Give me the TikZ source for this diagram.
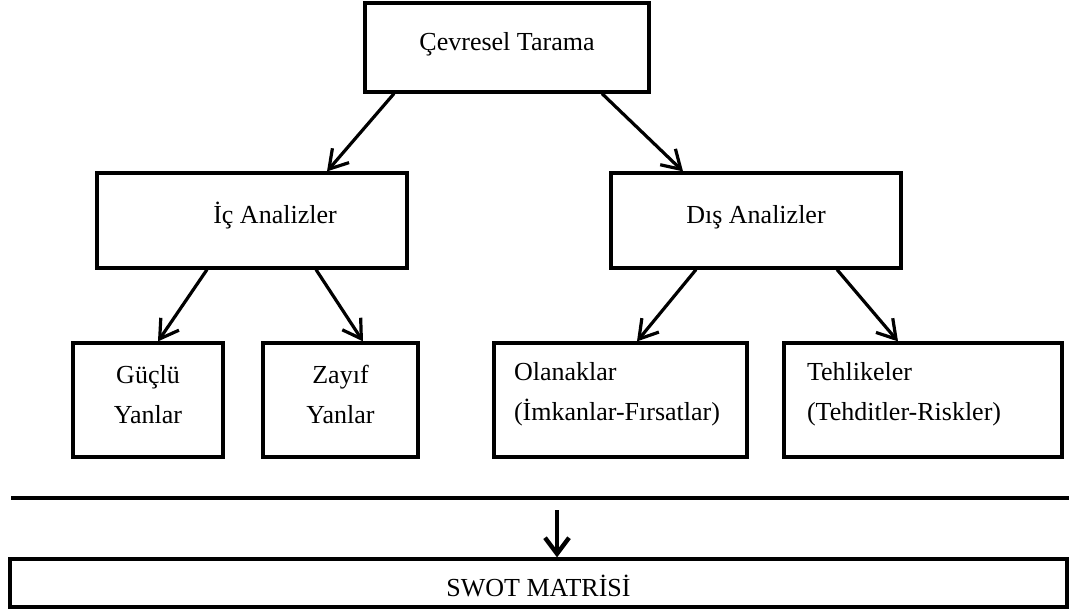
\documentclass[tikz,border=0pt]{standalone}
\usepackage{fontspec}
\setmainfont{Liberation Serif}
\usetikzlibrary{arrows.meta,positioning}

\tikzset{
  kutu/.style={draw, line width=1.6pt, inner sep=0pt, font=\fontsize{13}{20}\selectfont},
  tek/.style={kutu, align=center, text height=9pt, text depth=6pt},
  iki/.style={kutu, align=center, text height=29pt, text depth=6pt},
  sol/.style={kutu, align=left, text height=9pt, text depth=29pt},
  ok/.style={-{Straight Barb[length=9pt,width=11pt]}, line width=1.6pt},
  kalinok/.style={-{Straight Barb[length=8pt,width=12pt]}, line width=2.2pt},
}

\begin{document}
\begin{tikzpicture}[x=0.5pt,y=-0.5pt]
\useasboundingbox (0,0) rectangle (1069,609);

\node[tek, minimum width=142pt, minimum height=44.5pt] at (507,47.5) (cevre) {Çevresel Tarama};

\node[tek, minimum width=155pt, minimum height=47.5pt] at (252,220.5) (ic) {\hspace*{23pt}İç Analizler};
\node[tek, minimum width=145pt, minimum height=47.5pt] at (756,220.5) (dis) {Dış Analizler};

\node[iki, minimum width=75pt, minimum height=57pt] at (148,400) (guclu) {Güçlü\\Yanlar};
\node[iki, minimum width=77.5pt, minimum height=57pt] at (340.5,400) (zayif) {Zayıf\\Yanlar};
\node[sol, inner xsep=10pt, text width=106.5pt, minimum height=57pt] at (620.5,400) (olanak) {Olanaklar\\(İmkanlar-Fırsatlar)};
\node[sol, inner xsep=11.5pt, text width=116pt, minimum height=57pt] at (923,400) (tehlike) {Tehlikeler\\(Tehditler-Riskler)};

\node[kutu, text height=13pt, text depth=0pt, minimum width=528.5pt, minimum height=24pt] at (538.5,583) (swot) {SWOT MATRİSİ};

% cevresel tarama -> ic / dis
\draw[ok] ([xshift=-56.5pt]cevre.south) -- ([xshift=37.5pt]ic.north);
\draw[ok] ([xshift=47.5pt]cevre.south) -- ([xshift=-36.5pt]dis.north);

% ic analizler
\draw[ok] ([xshift=-22.5pt]ic.south) -- ([xshift=5pt]guclu.north);
\draw[ok] ([xshift=32pt]ic.south) -- ([xshift=11.25pt]zayif.north);

% dis analizler
\draw[ok] ([xshift=-30pt]dis.south) -- ([xshift=8.25pt]olanak.north);
\draw[ok] ([xshift=40.5pt]dis.south) -- ([xshift=-12.5pt]tehlike.north);

\draw[line width=2.2pt] (11,498) -- (1069,498);

\coordinate (okbas) at (557,510);
\draw[kalinok] (okbas) -- ([xshift=9.25pt]swot.north);

\end{tikzpicture}
\end{document}
